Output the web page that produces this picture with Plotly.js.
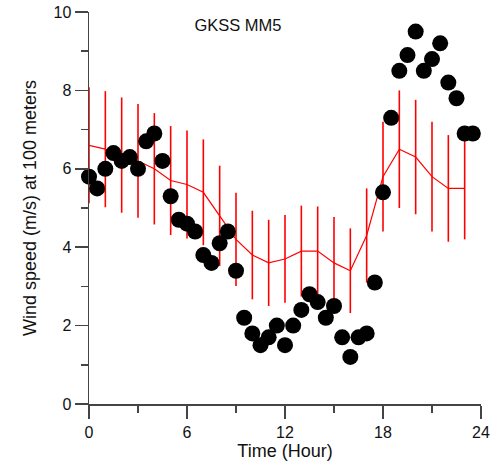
<!DOCTYPE html>
<html>
<head>
<meta charset="utf-8">
<script src="https://cdn.plot.ly/plotly-3.0.1.min.js"></script>
<style>html,body{margin:0;padding:0;background:#fff;}#chart{width:493px;height:467px;}</style>
</head>
<body>
<div id="chart"></div>
<script>
// Observed wind speed, half-hourly
const obsHours = [0,0.5,1,1.5,2,2.5,3,3.5,4,4.5,5,5.5,6,6.5,7,7.5,8,8.5,9,9.5,10,10.5,11,11.5,12,12.5,13,13.5,14,14.5,15,15.5,16,16.5,17,17.5,18,18.5,19,19.5,20,20.5,21,21.5,22,22.5,23,23.5];
const obsSpeed = [5.8,5.5,6.0,6.4,6.2,6.3,6.0,6.7,6.9,6.2,5.3,4.7,4.6,4.4,3.8,3.6,4.1,4.4,3.4,2.2,1.8,1.5,1.7,2.0,1.5,2.0,2.4,2.8,2.6,2.2,2.5,1.7,1.2,1.7,1.8,3.1,5.4,7.3,8.5,8.9,9.5,8.5,8.8,9.2,8.2,7.8,6.9,6.9];
// GKSS MM5 model, hourly mean and spread
const modelHours = [0,1,2,3,4,5,6,7,8,9,10,11,12,13,14,15,16,17,18,19,20,21,22,23];
const modelMean = [6.6,6.5,6.35,6.2,6.0,5.7,5.6,5.4,4.8,4.2,3.8,3.6,3.7,3.9,3.9,3.6,3.4,4.3,5.8,6.5,6.3,5.8,5.5,5.5];
const modelSpread = [1.48,1.48,1.47,1.45,1.42,1.39,1.38,1.35,1.28,1.19,1.13,1.1,1.12,1.16,1.14,1.17,1.08,1.2,1.4,1.5,1.46,1.4,1.36,1.3];
const xTickVals = [0,6,12,18,24];
const yTickVals = [0,2,4,6,8,10];

const font = "Liberation Sans, Arial, sans-serif";

const traces = [
  {
    x: modelHours, y: modelMean, type: 'scatter', mode: 'lines',
    line: {color: '#ff0000', width: 1.2},
    error_y: {type: 'data', array: modelSpread, visible: true, color: '#ff0000', thickness: 1.6, width: 0},
    cliponaxis: false, hoverinfo: 'skip', showlegend: false
  },
  {
    x: obsHours, y: obsSpeed, type: 'scatter', mode: 'markers',
    marker: {color: '#000000', size: 16, line: {width: 0}},
    cliponaxis: false, showlegend: false
  }
];

const axisCommon = {
  showgrid: false, zeroline: false, showline: true, linecolor: '#444', linewidth: 1.5,
  ticks: 'outside', ticklen: 13, tickwidth: 1.5, tickcolor: '#444',
  tickfont: {family: font, size: 16, color: '#111'},
  automargin: false, mirror: false
};

const layout = {
  width: 493, height: 467,
  margin: {l: 89, r: 12, t: 12, b: 63},
  paper_bgcolor: '#fff', plot_bgcolor: '#fff',
  font: {family: font, color: '#111'},
  showlegend: false,
  title: {text: 'GKSS MM5', font: {family: font, size: 16.5, color: '#111'},
          x: 238/493, xanchor: 'center', xref: 'container', y: 1 - 25/467, yanchor: 'middle', yref: 'container'},
  xaxis: Object.assign({}, axisCommon, {
    range: [0, 24], tickvals: xTickVals, ticktext: xTickVals.map(String),
    minor: {dtick: 3, tick0: 0, ticks: 'outside', ticklen: 7, tickwidth: 1.5, tickcolor: '#444', showgrid: false},
    title: {text: 'Time (Hour)', font: {family: font, size: 18, color: '#111'}, standoff: 2}
  }),
  yaxis: Object.assign({}, axisCommon, {
    range: [0, 10], tickvals: yTickVals, ticktext: yTickVals.map(String),
    minor: {dtick: 1, tick0: 0, ticks: 'outside', ticklen: 7, tickwidth: 1.5, tickcolor: '#444', showgrid: false},
    title: {text: 'Wind speed (m/s) at 100 meters', font: {family: font, size: 18, color: '#111'}, standoff: 12}
  })
};

Plotly.newPlot('chart', traces, layout, {displayModeBar: false, staticPlot: true});
</script>
</body>
</html>
